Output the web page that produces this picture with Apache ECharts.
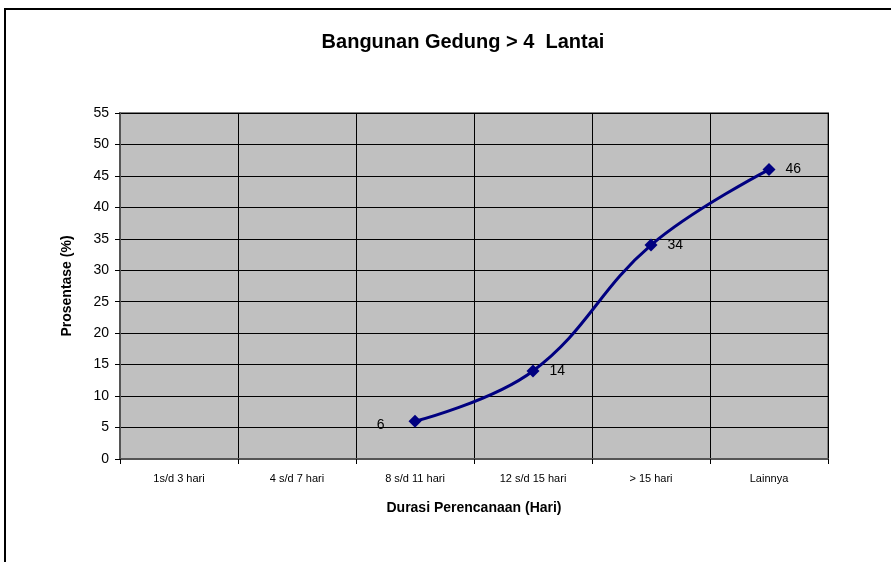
<!DOCTYPE html>
<html><head><meta charset="utf-8">
<script src="https://cdn.jsdelivr.net/npm/echarts@6/dist/echarts.min.js"></script>
<style>html,body{margin:0;padding:0;background:#fff}#c{width:891px;height:562px}</style>
</head><body><div id="c"></div>
<script>
const categories = ['1s/d 3 hari', '4 s/d 7 hari', '8 s/d 11 hari', '12 s/d 15 hari', '> 15 hari', 'Lainnya'];
const values = [null, null, 6, 14, 34, 46];
const yTicks = {min: 0, max: 55, interval: 5};

const chart = echarts.init(document.getElementById('c'), null, {renderer: 'canvas'});
const font = 'Liberation Sans, Arial, sans-serif';
const data = values.map((v, i) => ({
  value: v,
  label: {position: i === 2 ? 'left' : 'right', distance: i === 2 ? 24 : 10, offset: i === 2 ? [0, 4] : [0, 0]}
}));
chart.setOption({
  backgroundColor: '#fff',
  animation: false,
  title: {
    text: 'Bangunan Gedung > 4  Lantai', left: 458, top: 27, textAlign: 'center',
    textStyle: {fontFamily: font, fontSize: 20, fontWeight: 'bold', color: '#000'}
  },
  graphic: [{
    type: 'rect', shape: {x: 5, y: 9, width: 1000, height: 1000},
    style: {fill: 'none', stroke: '#000', lineWidth: 2}, silent: true, z: 100
  }],
  grid: {left: 120, top: 113, right: 63, bottom: 103, show: true,
    backgroundColor: '#C0C0C0', borderColor: '#808080', borderWidth: 2},
  xAxis: {
    type: 'category', data: categories, boundaryGap: true,
    name: 'Durasi Perencanaan (Hari)', nameLocation: 'middle', nameGap: 42,
    nameTextStyle: {fontFamily: font, fontSize: 14, fontWeight: 'bold', color: '#000'},
    axisLine: {lineStyle: {color: '#555', width: 2}},
    axisTick: {show: true, length: 5, lineStyle: {color: '#000'}},
    axisLabel: {fontFamily: font, fontSize: 11, color: '#000', margin: 14},
    splitLine: {show: true, lineStyle: {color: '#000', width: 1}}
  },
  yAxis: {
    type: 'value', min: yTicks.min, max: yTicks.max, interval: yTicks.interval,
    name: 'Prosentase (%)', nameLocation: 'middle', nameGap: 46,
    nameTextStyle: {fontFamily: font, fontSize: 14, fontWeight: 'bold', color: '#000'},
    axisLine: {show: true, lineStyle: {color: '#555', width: 2}},
    axisTick: {show: true, length: 5, lineStyle: {color: '#000'}},
    axisLabel: {fontFamily: font, fontSize: 14, color: '#000', margin: 11},
    splitLine: {show: true, lineStyle: {color: '#000', width: 1}}
  },
  series: [{
    type: 'line', data: data, smooth: 0.4, connectNulls: false,
    symbol: 'diamond', symbolSize: 13,
    lineStyle: {color: '#000080', width: 3},
    itemStyle: {color: '#000080'},
    label: {show: true, fontFamily: font, fontSize: 14, color: '#000'}
  }]
});
</script></body></html>
